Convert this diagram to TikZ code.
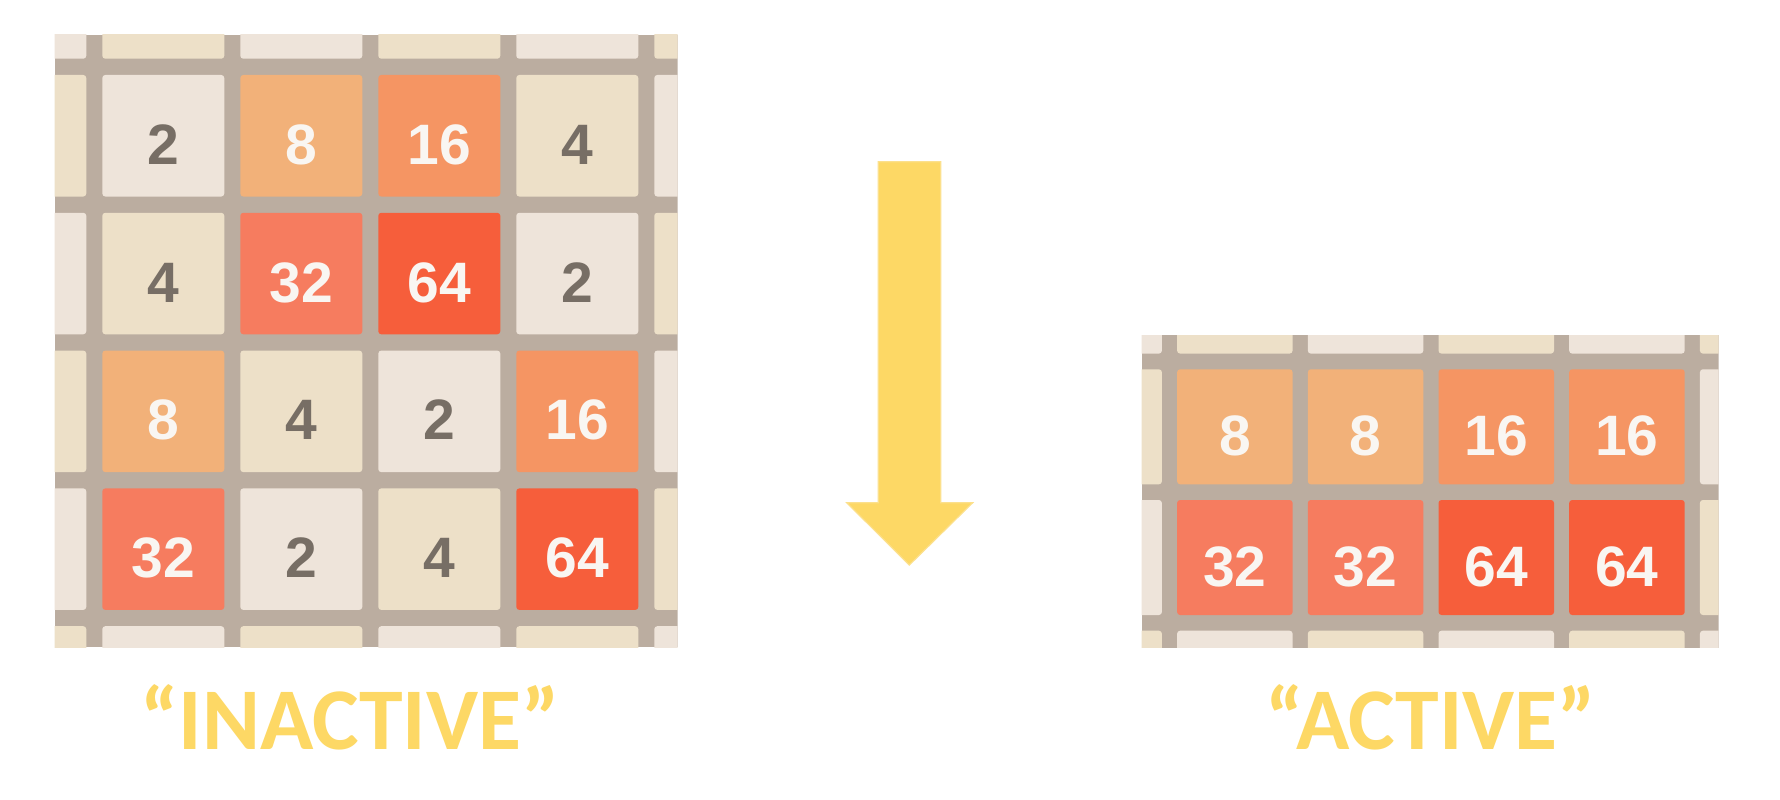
\documentclass[tikz,border=0pt]{standalone}
\usepackage{fontspec}
\newfontfamily\tilefont{Liberation Sans}
\newfontfamily\labelfont{Carlito}
\definecolor{gridbg}{HTML}{BBADA0}
\definecolor{ctwo}{HTML}{EEE4DA}
\definecolor{cfour}{HTML}{EDE0C8}
\definecolor{ceight}{HTML}{F2B179}
\definecolor{csixteen}{HTML}{F59563}
\definecolor{cthirtytwo}{HTML}{F67C5F}
\definecolor{csixtyfour}{HTML}{F65E3B}
\definecolor{darktext}{HTML}{776E65}
\definecolor{lighttext}{HTML}{F9F6F2}
\definecolor{arrowyellow}{HTML}{FDD865}
\definecolor{arrowedge}{HTML}{FCE08C}
\tikzset{
  tile/.style={rounded corners=3pt, inner sep=0pt, outer sep=0pt, anchor=north west,
    font=\tilefont\bfseries\fontsize{57}{57}\selectfont, text height=57pt, text depth=0pt},
  ltile/.style={tile, minimum width=122pt, minimum height=121.5pt},
  rtile/.style={tile, minimum width=115.5pt, minimum height=115pt},
  v2/.style={fill=ctwo, text=darktext},
  v4/.style={fill=cfour, text=darktext},
  v8/.style={fill=ceight, text=lighttext},
  v16/.style={fill=csixteen, text=lighttext},
  v32/.style={fill=cthirtytwo, text=lighttext},
  v64/.style={fill=csixtyfour, text=lighttext},
  chk0/.style={fill=ctwo},
  chk1/.style={fill=cfour},
  caption/.style={anchor=base, text=arrowyellow, font=\labelfont\bfseries\fontsize{88}{88}\selectfont, inner sep=0pt}
}
\begin{document}
\begin{tikzpicture}[x=1pt,y=-1pt]
\useasboundingbox (0,0) rectangle (1780,800);
\fill[white] (0,0) rectangle (1780,800);
% ---------- left board ----------
\begin{scope}
\clip (54.7,35) rectangle (677.7,647.3);
\fill[gridbg] (54.7,35) rectangle (677.7,647.3);
\foreach \r in {-1,...,4}{
  \foreach \k in {-1,...,4}{
    \pgfmathtruncatemacro\inside{(\r>=0)&&(\r<=3)&&(\k>=0)&&(\k<=3)}
    \pgfmathtruncatemacro\chk{mod(\r+\k+10,2)}
    \ifnum\inside=0
      \node[ltile, chk\chk] (Lb\r\k) at ({102.3+138*\k},{75+137.8*\r}) {};
    \fi
  }
}
\end{scope}
\foreach \r/\k/\v in {0/0/2,0/1/8,0/2/16,0/3/4,
                      1/0/4,1/1/32,1/2/64,1/3/2,
                      2/0/8,2/1/4,2/2/2,2/3/16,
                      3/0/32,3/1/2,3/2/4,3/3/64}{
  \node[ltile, v\v] (L\r\k) at ({102.3+138*\k},{75+137.8*\r}) {\v};
}
% ---------- right board ----------
\begin{scope}
\clip (1141.5,335) rectangle (1718.6,647.7);
\fill[gridbg] (1141.5,335) rectangle (1718.6,647.7);
\foreach \r in {-1,...,2}{
  \foreach \k in {-1,...,4}{
    \pgfmathtruncatemacro\inside{(\r>=0)&&(\r<=1)&&(\k>=0)&&(\k<=3)}
    \pgfmathtruncatemacro\chk{mod(\r+\k+10,2)}
    \ifnum\inside=0
      \node[rtile, chk\chk] (Rb\r\k) at ({1177.1+130.7*\k},{369.3+130.7*\r}) {};
    \fi
  }
}
\end{scope}
\foreach \r/\k/\v in {0/0/8,0/1/8,0/2/16,0/3/16,
                      1/0/32,1/1/32,1/2/64,1/3/64}{
  \node[rtile, v\v] (R\r\k) at ({1177.1+130.7*\k},{369.3+130.7*\r}) {\v};
}
% ---------- arrow ----------
\filldraw[fill=arrowyellow, draw=arrowedge, line width=1.2pt, line join=miter]
  (878.3,161.7) -- (940.7,161.7) -- (940.7,502.7) -- (972.7,502.7)
  -- (909.3,565) -- (846.7,502.7) -- (878.3,502.7) -- cycle;
% ---------- captions ----------
\node[caption] (inactive) at (350,749.3) {“INACTIVE”};
\node[caption] (active) at (1430.5,749.3) {“ACTIVE”};
\end{tikzpicture}
\end{document}
